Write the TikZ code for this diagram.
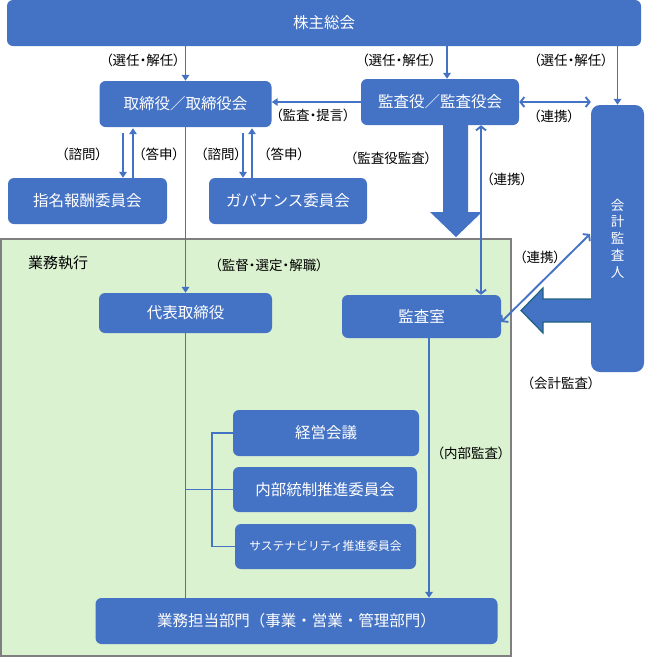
\documentclass[tikz,border=0pt]{standalone}
\usepackage{fontspec}
\newfontfamily\jp{Noto Sans CJK JP}
\newfontfamily\jpp[RawFeature=+palt]{Noto Sans CJK JP}
\usetikzlibrary{arrows.meta,calc}
\definecolor{myblue}{HTML}{4472C4}
\definecolor{mygreen}{HTML}{DAF2D0}
\definecolor{mygray}{HTML}{7F7F7F}
\definecolor{myteal}{HTML}{1F6482}
\begin{document}
\begin{tikzpicture}[x=1pt,y=-1pt,
 box/.style={fill=myblue, rounded corners=6pt, text=white, inner sep=0pt, font=\jp\fontsize{15.5}{17}\selectfont},
 lab/.style={font=\jpp\fontsize{13.5}{15}\selectfont, text=black, inner sep=0pt},
 ln/.style={draw=myblue, line width=1.9pt},
 arr/.style={ln, -{Triangle[length=6pt,width=7.5pt]}},
 dbl/.style={ln, {Straight Barb[length=4pt,width=10pt]}-{Straight Barb[length=4pt,width=10pt]}},
]
\useasboundingbox (0,0) rectangle (645,657);
% execution area
\node[draw=mygray, fill=mygreen, line width=1.8pt, minimum width=510pt, minimum height=417pt, inner sep=0pt] (exec) at (255.9,447.6) {};
% boxes
\node[box, minimum width=634pt, minimum height=46pt] (kabu) at (324,23) {株主総会};
\node[box, minimum width=172pt, minimum height=46pt] (tori) at (185.5,104) {取締役／取締役会};
\node[box, minimum width=158pt, minimum height=46pt] (kansa) at (440,102) {監査役／監査役会};
\node[box, minimum width=159pt, minimum height=46pt] (shimei) at (87.5,201) {指名報酬委員会};
\node[box, minimum width=158pt, minimum height=46pt] (gov) at (288,201) {ガバナンス委員会};
\node[box, minimum width=173pt, minimum height=40pt] (daihyo) at (185.5,313) {代表取締役};
\node[box, minimum width=159pt, minimum height=43pt] (kansashitsu) at (421.5,316.5) {監査室};
\node[box, minimum width=186pt, minimum height=46pt] (keiei) at (326,433) {経営会議};
\node[box, minimum width=184pt, minimum height=45pt] (naibu) at (325,489.5) {内部統制推進委員会};
\node[box, minimum width=181pt, minimum height=45pt, font=\jp\fontsize{11.8}{13}\selectfont] (sustain) at (325.5,546.5) {サステナビリティ推進委員会};
\node[box, minimum width=402pt, minimum height=46pt] (gyomu) at (296.5,621) {業務担当部門（事業・営業・管理部門）};
% big arrow from accounting auditor
\fill[myblue] (591,299) -- (543,299) -- (543,288) -- (521,310.5) -- (543,333) -- (543,322) -- (591,322) -- cycle;
\draw[myteal, line width=1.2pt, line join=miter] (591,299) -- (543,299) -- (543,288) -- (521,310.5) -- (543,333) -- (543,322) -- (591,322);
\node[box, rounded corners=9pt, minimum width=53pt, minimum height=267pt, align=center, font=\jp\fontsize{13.5}{16.8}\selectfont] (kaikei) at (617.5,238.5) {会\\計\\監\\査\\人};
% big arrow from audit board
\fill[myblue] (443,124) -- (468,124) -- (468,212) -- (482,212) -- (456,237) -- (430,212) -- (443,212) -- cycle;
% connectors
\coordinate (dtop) at (590,234);
\draw[arr] (kabu.south -| tori.north) -- (tori.north);
\draw[arr] ([xshift=7pt]kansa.north |- kabu.south) -- ([xshift=7pt]kansa.north);
\draw[arr] (kaikei.north |- kabu.south) -- (kaikei.north);
\draw[arr] (kansa.west) -- (kansa.west -| tori.east);
\draw[dbl] (kansa.east) -- (kansa.east -| kaikei.west);
\draw[arr, shorten <=6pt] ([xshift=-62.5pt]tori.south) -- ([xshift=-62.5pt]tori.south |- shimei.north);
\draw[arr, shorten >=1pt] ([xshift=-52.5pt]tori.south |- shimei.north) -- ([xshift=-52.5pt]tori.south);
\draw[arr, shorten <=6pt] ([xshift=-45pt]gov.north |- tori.south) -- ([xshift=-45pt]gov.north);
\draw[arr, shorten >=1pt] ([xshift=-36pt]gov.north) -- ([xshift=-36pt]gov.north |- tori.south);
\draw[dbl] ([xshift=41pt]kansa.south) -- ([xshift=41pt]kansa.south |- kansashitsu.north);
\draw[arr] (tori.south) -- (daihyo.north);
\draw[ln] (daihyo.south) -- (daihyo.south |- gyomu.north);
\draw[ln] (daihyo.south |- naibu.west) -- (naibu.west);
\draw[ln] (keiei.west) -- ++(-21,0) |- (sustain.west);
\draw[arr] ([xshift=7.5pt]kansashitsu.south) -- ([xshift=7.5pt]kansashitsu.south |- gyomu.north);
\draw[dbl] ([yshift=-5.5pt]kansashitsu.east) -- (dtop);
% labels
\node[lab] (l1) at (143,60) {（選任・解任）};
\node[lab] (l2) at (399,60) {（選任・解任）};
\node[lab] (l3) at (571,60) {（選任・解任）};
\node[lab] (l4) at (313,115) {（監査・提言）};
\node[lab] (l5) at (554,116) {（連携）};
\node[lab] (l6) at (82,154) {（諮問）};
\node[lab] (l7) at (159,154) {（答申）};
\node[lab] (l8) at (221,154) {（諮問）};
\node[lab] (l9) at (284,154) {（答申）};
\node[lab] (l10) at (391,158) {（監査役監査）};
\node[lab] (l11) at (507,179) {（連携）};
\node[lab, font=\jp\fontsize{15}{17}\selectfont] (l12) at (58,263) {業務執行};
\node[lab] (l13) at (269,265) {（監督・選定・解職）};
\node[lab] (l14) at (540,257) {（連携）};
\node[lab] (l15) at (561,383) {（会計監査）};
\node[lab] (l16) at (471,453) {（内部監査）};
\end{tikzpicture}
\end{document}
